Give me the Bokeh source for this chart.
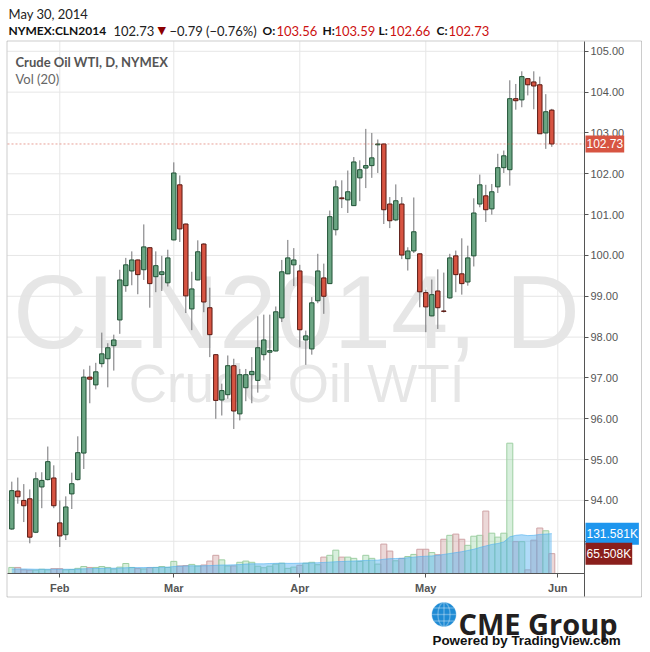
import math
from bokeh.plotting import figure
from bokeh.models import (ColumnDataSource, Range1d, FixedTicker, PrintfTickFormatter,
                          Label, BoxAnnotation, PolyAnnotation, LinearAxis)
from bokeh.embed import file_html
from bokeh.resources import INLINE

# ---------------- data ----------------
month_labels = ["Feb", "Mar", "Apr", "May", "Jun"]
month_bar_index = [8, 27, 48, 69, 91]
price_ticks = [93, 94, 95, 96, 97, 98, 99, 100, 101, 102, 103, 104, 105]

opens = [93.30, 94.23, 94.00, 94.04, 93.22, 94.33, 94.51, 94.55, 93.45, 93.16,
         94.16, 94.51, 95.16, 97.02, 96.83, 97.35, 97.47, 97.79, 98.42, 99.26,
         99.62, 99.89, 99.65, 100.19, 99.48, 99.53, 99.33, 100.38, 101.73, 100.77,
         98.69, 99.40, 100.28, 98.72, 97.57, 96.46, 96.59, 97.30, 96.12, 96.76,
         97.08, 96.94, 97.57, 97.63, 97.66, 98.47, 99.55, 99.77, 99.62, 97.93,
         97.71, 98.89, 99.45, 99.31, 100.63, 101.41, 101.36, 101.22, 101.90, 102.14,
         102.20, 102.71, 102.73, 101.26, 100.87, 101.26, 99.92, 100.11, 100.04, 99.09,
         98.52, 99.13, 98.64, 98.96, 99.99, 99.55, 99.35, 99.99, 101.26, 101.46,
         101.14, 101.68, 102.15, 102.10, 103.84, 103.81, 104.33, 104.25, 104.18, 103.00,
         103.56]
highs = [94.46, 94.56, 94.40, 94.27, 94.69, 94.69, 95.32, 94.86, 94.00, 94.10,
         94.68, 95.57, 97.21, 97.30, 97.37, 98.11, 97.85, 98.06, 99.65, 99.94,
         100.10, 99.90, 100.76, 100.20, 100.10, 99.99, 100.14, 102.28, 101.96, 100.78,
         99.60, 100.37, 100.30, 99.21, 97.58, 96.86, 97.55, 97.47, 97.22, 97.22,
         97.51, 98.51, 98.55, 98.55, 98.75, 99.89, 100.38, 100.18, 99.77, 98.16,
         98.98, 100.04, 99.80, 101.10, 101.84, 101.84, 102.08, 102.41, 102.33, 103.10,
         103.00, 102.84, 102.74, 101.43, 101.74, 101.43, 100.20, 101.42, 100.05, 99.16,
         99.41, 99.66, 99.58, 100.04, 100.12, 100.42, 100.24, 101.40, 101.98, 101.73,
         101.75, 102.49, 102.57, 104.29, 104.20, 104.51, 104.34, 104.51, 104.38, 103.95,
         103.59]
lows = [93.28, 93.92, 93.47, 92.95, 93.20, 93.81, 94.49, 93.81, 92.86, 93.03,
        93.79, 94.49, 94.77, 96.38, 96.72, 97.26, 96.77, 97.18, 98.08, 99.11,
        99.27, 99.05, 99.40, 98.72, 99.10, 99.13, 99.24, 100.37, 100.33, 98.59,
        98.17, 99.39, 98.61, 97.51, 96.00, 96.08, 96.49, 95.75, 95.96, 96.43,
        96.38, 96.64, 97.43, 96.94, 97.65, 98.37, 99.54, 99.25, 97.75, 97.32,
        97.57, 98.83, 98.57, 99.30, 100.49, 101.16, 101.04, 101.21, 101.33, 101.65,
        101.90, 102.02, 100.77, 100.67, 100.84, 99.91, 99.63, 100.06, 98.73, 98.12,
        98.51, 98.20, 98.60, 98.94, 99.10, 99.04, 99.26, 99.73, 101.18, 100.82,
        101.00, 101.53, 102.02, 101.71, 103.57, 103.63, 103.92, 103.58, 102.98, 102.61,
        102.66]
closes = [94.24, 94.09, 93.87, 93.10, 94.53, 94.49, 94.95, 93.87, 93.13, 93.84,
          94.41, 95.17, 97.02, 96.97, 97.15, 97.59, 97.74, 97.93, 99.40, 99.77,
          99.89, 99.53, 100.21, 99.31, 99.75, 99.60, 99.94, 102.02, 100.65, 99.01,
          99.18, 100.09, 98.86, 98.06, 96.45, 96.69, 97.30, 96.19, 97.08, 97.08,
          97.16, 97.74, 97.93, 97.67, 98.62, 99.60, 99.94, 99.89, 98.18, 98.03,
          98.84, 99.62, 99.00, 100.95, 101.68, 101.39, 101.56, 102.29, 102.10, 102.20,
          102.39, 102.73, 101.12, 100.85, 101.34, 100.01, 100.11, 100.58, 99.11, 98.74,
          99.04, 98.72, 98.63, 99.94, 99.53, 99.31, 99.94, 101.04, 101.73, 101.12,
          101.56, 102.15, 102.44, 103.84, 103.79, 104.38, 104.18, 104.15, 102.98, 103.52,
          102.73]
volumes_k = [20, 20, 12, 11, 11, 14, 12, 16, 16, 12,
             13, 17, 23, 20, 20, 23, 20, 15, 21, 33,
             20, 16, 15, 19, 20, 23, 20, 40, 25, 26,
             30, 25, 28, 41, 60, 45, 25, 25, 37, 41,
             37, 24, 19, 24, 31, 34, 17, 21, 27, 34,
             37, 29, 54, 60, 77, 54, 54, 50, 40, 60,
             50, 31, 97, 74, 42, 50, 56, 63, 80, 80,
             69, 62, 113, 126, 130, 113, 93, 123, 126, 206,
             133, 120, 133, 430, 105, 105, 12, 110, 150, 141,
             65.508]
vol_ma_k = [15, 15, 15, 14.5, 14, 14, 14, 14, 14, 14,
            14, 14.5, 15.5, 16, 16.5, 17, 17.5, 17.5, 18, 19,
            19.5, 19.5, 19.5, 20, 20, 20.5, 21, 23, 24, 25,
            25.5, 25, 25.5, 26, 27, 28, 28, 28.5, 29.5, 31,
            32, 32, 32, 33, 33.5, 34, 33.5, 33.5, 34, 34.5,
            35, 35.5, 36.5, 37.5, 39, 39.5, 40.5, 41, 42, 43,
            44, 44, 47, 49, 49.5, 50, 52, 54, 56, 57,
            58, 60, 63, 66, 69, 72, 76, 80, 86, 91,
            96, 99, 104, 121, 126, 128, 125, 126, 129, 130,
            131.581]
last_price = 102.73

# ---------------- styling ----------------
UP_FILL, UP_LINE = "#6ba583", "#225437"
DN_FILL, DN_LINE = "#d75442", "#5b1a13"
WICK = "#737375"
AXIS = "#555555"
GRID = "#e6e6e6"

# ---------------- geometry (canvas pixels == page pixels) ----------------
W, H = 650, 652
PLOT_L, PLOT_R, PLOT_T, PLOT_B = 7, 584, 41, 573      # price/volume pane
BOX_R, BOX_B = 641, 596                               # outer chart box
PX_PER_BAR = 6.0
PX_PER_DOLLAR = 40.83
K_PER_PX = 3.3
x_start = -11.3 / PX_PER_BAR
x_end = x_start + W / PX_PER_BAR
y_top = 105 + 50.8 / PX_PER_DOLLAR
y_bot = y_top - H / PX_PER_DOLLAR
vol_start = -(H - PLOT_B) * K_PER_PX * 1000
vol_end = PLOT_B * K_PER_PX * 1000


def dx(px):
    return x_start + px / PX_PER_BAR


def dy(py):
    return y_top - py / PX_PER_DOLLAR


n = len(opens)
idx = list(range(n))
up = [c >= o for o, c in zip(opens, closes)]
src = ColumnDataSource(dict(
    idx=idx, high=highs, low=lows,
    btop=[max(o, c) for o, c in zip(opens, closes)],
    bbot=[min(o, c) for o, c in zip(opens, closes)],
    bfill=[UP_FILL if u else DN_FILL for u in up],
    bline=[UP_LINE if u else DN_LINE for u in up],
    vol=[v * 1000 for v in volumes_k],
    ma=[m * 1000 for m in vol_ma_k],
    vfill=["#8fd19e" if u else "#c98f8f" for u in up],
    vline=["#9fcfa3" if u else "#cfa3a5" for u in up],
))

p = figure(width=W, height=H, title=None,
           x_range=Range1d(x_start, x_end), y_range=Range1d(y_bot, y_top),
           output_backend="svg", toolbar_location=None,
           x_axis_location=None, y_axis_location=None,
           min_border=0, min_border_left=0, min_border_right=0,
           min_border_top=0, min_border_bottom=0,
           background_fill_color="white", border_fill_color="white",
           outline_line_color=None)
p.extra_y_ranges = {"vol": Range1d(vol_start, vol_end)}
p.xgrid.visible = False
p.ygrid.visible = False

# axes drawn at fixed locations inside the canvas
xaxis = LinearAxis(fixed_location=dy(PLOT_B), bounds=(dx(PLOT_L), dx(PLOT_R)),
                   ticker=FixedTicker(ticks=month_bar_index),
                   major_label_overrides={i: l for i, l in zip(month_bar_index, month_labels)})
yaxis = LinearAxis(fixed_location=dx(PLOT_R), bounds=(dy(BOX_B), dy(PLOT_T)),
                   ticker=FixedTicker(ticks=price_ticks),
                   formatter=PrintfTickFormatter(format="%.2f"))
for ax in (xaxis, yaxis):
    ax.axis_line_color = AXIS
    ax.major_tick_line_color = AXIS
    ax.minor_tick_line_color = None
    ax.major_tick_in = 0
    ax.major_tick_out = 4
    ax.major_label_text_font = "Liberation Sans"
    ax.major_label_text_font_size = "11px"
    ax.major_label_text_color = AXIS
xaxis.major_label_text_font_style = "bold"
xaxis.major_label_standoff = 4
yaxis.major_label_standoff = 2
p.add_layout(xaxis, "below")
p.add_layout(yaxis, "right")

# grid lines of the price pane
p.segment(x0=month_bar_index, y0=[dy(PLOT_T)] * len(month_bar_index),
          x1=month_bar_index, y1=[dy(PLOT_B)] * len(month_bar_index),
          line_color=GRID, line_width=1, level="underlay")
p.segment(x0=[dx(PLOT_L)] * len(price_ticks), y0=price_ticks,
          x1=[dx(PLOT_R)] * len(price_ticks), y1=price_ticks,
          line_color=GRID, line_width=1, level="underlay")

# watermark
p.add_layout(Label(x=dx(296), y=dy(312), text="CLN2014, D", text_align="center",
                   text_baseline="alphabetic", text_font="Liberation Sans",
                   text_font_size="103px", text_color="#e6e6e6", level="image"))
p.add_layout(Label(x=dx(296), y=dy(383), text="Crude Oil WTI", text_align="center",
                   text_baseline="alphabetic", text_font="Liberation Sans",
                   text_font_size="53px", text_color="#e6e6e6", level="image"))

# volume + MA
p.vbar(x="idx", width=1.0, top="vol", bottom=0, source=src, y_range_name="vol",
       fill_color="vfill", fill_alpha=0.35, line_color="vline", line_width=1)
p.varea(x="idx", y1=0, y2="ma", source=src, y_range_name="vol",
        fill_color="#4fb0f0", fill_alpha=0.45)
p.line(x="idx", y="ma", source=src, y_range_name="vol",
       line_color="#4fb0f0", line_alpha=0.6, line_width=1)

# candles
p.segment(x0="idx", y0="low", x1="idx", y1="high", source=src,
          line_color=WICK, line_width=1)
p.vbar(x="idx", width=0.74, top="btop", bottom="bbot", source=src,
       fill_color="bfill", line_color="bline", line_width=1)

# last price line
p.segment(x0=[dx(PLOT_L)], y0=[last_price], x1=[dx(PLOT_R)], y1=[last_price],
          line_color=DN_FILL, line_alpha=0.55, line_dash="2 2", line_width=1)

# outer chart box
p.add_layout(BoxAnnotation(left=dx(6.5), right=dx(BOX_R), top=dy(40.5), bottom=dy(BOX_B + 0.5),
                           fill_color=None, line_color=AXIS, line_width=1))

# right-side value labels
p.add_layout(Label(x=dx(585), y=last_price, text=f"{last_price:.2f}", text_align="left",
                   text_baseline="middle", text_color="white", text_font="Liberation Sans",
                   text_font_size="12px", background_fill_color=DN_FILL, padding=(1, 4)))
p.add_layout(Label(x=dx(585), y=vol_ma_k[-1] * 1000, y_range_name="vol",
                   text=f"{vol_ma_k[-1]:.3f}K", text_align="left", text_baseline="middle",
                   text_color="white", text_font="Liberation Sans", text_font_size="12px",
                   background_fill_color="#1e96ee", padding=(1, 4)))
p.add_layout(Label(x=dx(585), y=volumes_k[-1] * 1000, y_range_name="vol",
                   text=f"{volumes_k[-1]:.3f}K", text_align="left", text_baseline="middle",
                   text_color="white", text_font="Liberation Sans", text_font_size="12px",
                   background_fill_color="#8a1f1c", padding=(1, 4)))

# legend texts inside chart
p.add_layout(Label(x=dx(15), y=dy(61), text="Crude Oil WTI, D, NYMEX", text_align="left",
                   text_baseline="middle", text_font="Lato", text_font_style="bold",
                   text_font_size="13px", text_color="#555555"))
p.add_layout(Label(x=dx(15), y=dy(78), text="Vol (20)", text_align="left",
                   text_baseline="middle", text_font="Lato",
                   text_font_size="13px", text_color="#666666"))

# header
p.add_layout(Label(x=dx(8), y=dy(13), text="May 30, 2014", text_align="left",
                   text_baseline="middle", text_font="Lato", text_font_size="13px",
                   text_color="#222222"))
chg = closes[-1] - closes[-2]
pct = chg / closes[-2] * 100
header = [
    ("NYMEX:CLN2014", 8, "bold", "#111111", "Lato", "12px"),
    (f"{closes[-1]:.2f}", 113, "normal", "#222222", "Lato", "13px"),
    ("\u25bc", 157, "normal", "#8b0000", "DejaVu Sans", "11px"),
    (f"\u2212{abs(chg):.2f} (\u2212{abs(pct):.2f}%)", 169, "normal", "#222222", "Lato", "13px"),
    ("O:", 262, "bold", "#111111", "Lato", "12px"),
    (f"{opens[-1]:.2f}", 276, "normal", "#cc1111", "Lato", "13px"),
    ("H:", 322, "bold", "#111111", "Lato", "12px"),
    (f"{highs[-1]:.2f}", 334, "normal", "#cc1111", "Lato", "13px"),
    ("L:", 378, "bold", "#111111", "Lato", "12px"),
    (f"{lows[-1]:.2f}", 389, "normal", "#cc1111", "Lato", "13px"),
    ("C:", 436, "bold", "#111111", "Lato", "12px"),
    (f"{closes[-1]:.2f}", 448, "normal", "#cc1111", "Lato", "13px"),
]
for txt, px, style, col, font, size in header:
    p.add_layout(Label(x=dx(px), y=dy(30), text=txt, text_align="left",
                       text_baseline="middle", text_font=font, text_font_style=style,
                       text_font_size=size, text_color=col))

# CME Group logo (globe + text)
gcx, gcy, gr = 443.5, 614.0, 12.0
ts = [2 * math.pi * k / 48 for k in range(48)]
p.add_layout(PolyAnnotation(xs=[dx(gcx + gr * math.cos(t)) for t in ts],
                            ys=[dy(gcy + gr * math.sin(t)) for t in ts],
                            fill_color="#1f8bd4", fill_alpha=1, line_color="#1f8bd4"))
for off in (-6.5, 0.0, 6.5):
    hw = math.sqrt(gr * gr - off * off)
    p.add_layout(PolyAnnotation(xs=[dx(gcx - hw), dx(gcx + hw)],
                                ys=[dy(gcy + off), dy(gcy + off)],
                                fill_color=None, line_color="white", line_width=1.4))
p.add_layout(PolyAnnotation(xs=[dx(gcx + 0.5 * gr * math.cos(t)) for t in ts],
                            ys=[dy(gcy + gr * math.sin(t)) for t in ts],
                            fill_color=None, line_color="white", line_width=1.4))
p.add_layout(PolyAnnotation(xs=[dx(gcx), dx(gcx)], ys=[dy(gcy - gr), dy(gcy + gr)],
                            fill_color=None, line_color="white", line_width=1.4))
p.add_layout(Label(x=dx(458), y=dy(623), text="CME Group", text_align="left",
                   text_baseline="alphabetic", text_font="Open Sans", text_font_style="bold",
                   text_font_size="29px", text_color="#231f20"))
p.add_layout(Label(x=dx(432), y=dy(640), text="Powered by TradingView.com", text_align="left",
                   text_baseline="middle", text_font="Liberation Sans", text_font_style="bold",
                   text_font_size="13.4px", text_color="#111111"))

open("out.html", "w").write(file_html(p, INLINE))
